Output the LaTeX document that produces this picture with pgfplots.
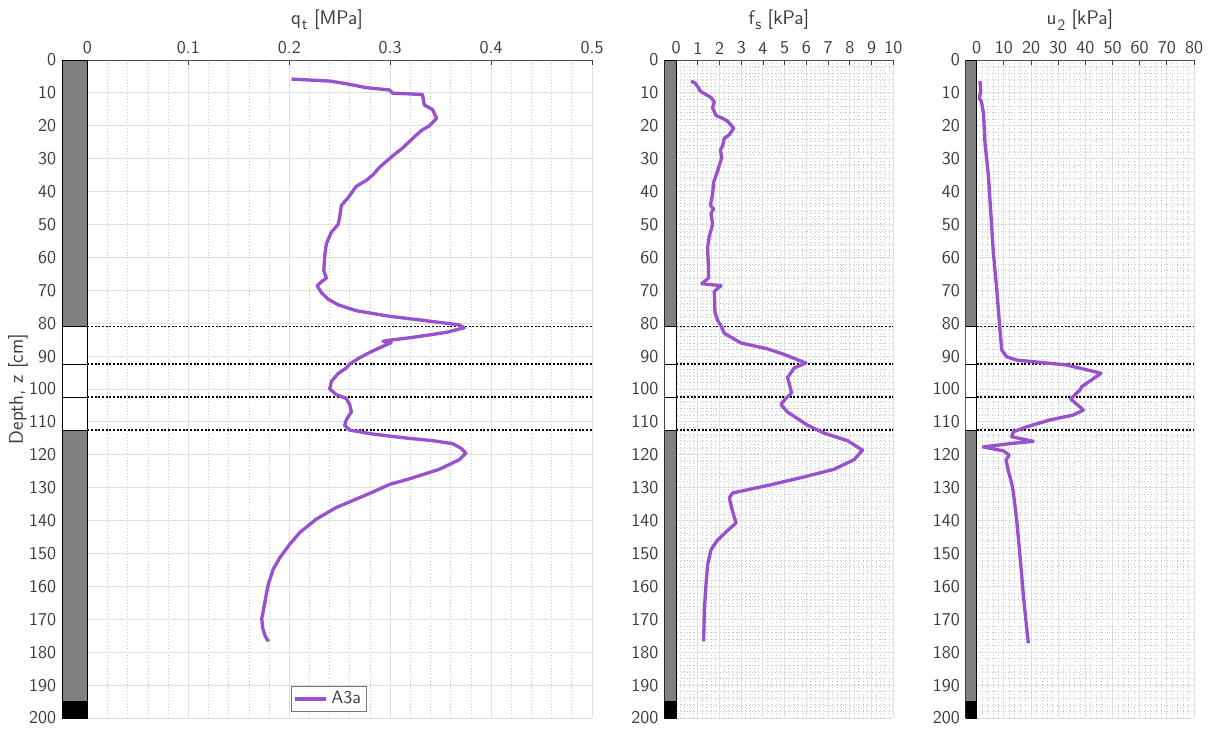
\documentclass[border=0pt]{standalone}
\usepackage{fontspec}
\renewcommand{\familydefault}{\sfdefault}
\usepackage{pgfplots}
\pgfplotsset{compat=1.18}
\definecolor{curve}{RGB}{153,82,204}
\definecolor{txt}{RGB}{60,60,60}
\definecolor{stripgrey}{RGB}{128,128,128}

\pgfplotsset{
  cpt/.style={
    scale only axis, anchor=north west,
    height=394.8pt,
    y dir=reverse, ymin=0, ymax=200, ytick={0,10,...,200},
    axis x line*=top, axis y line*=left,
    axis line style={draw=txt!90, line width=0.6pt, -},
    tick label style={font=\fontsize{10.8}{12}\selectfont, text=txt},
    label style={font=\fontsize{11.8}{13}\selectfont, text=txt},
    /pgf/number format/assume math mode=true,
    xticklabel style={/pgf/number format/fixed},
    xmajorgrids, ymajorgrids,
    major grid style={draw=black!12, line width=0.6pt},
    minor grid style={draw=black!22, dash pattern=on 0.45pt off 1.5pt, line width=0.4pt},
    minor tick length=0pt,
    ytick style={draw=none},
    xtick style={draw=txt, line width=0.5pt},
    major tick length=3pt,
    every axis plot/.append style={line join=round},
  }
}

\newcommand{\layers}[2]{%
  \addplot[fill=stripgrey, draw=black, line width=0.5pt, forget plot] coordinates {(#1,0) (0,0) (0,81) (#1,81) (#1,0)};
  \addplot[fill=white, draw=black, line width=0.5pt, forget plot] coordinates {(#1,81) (0,81) (0,92.5) (#1,92.5) (#1,81)};
  \addplot[fill=white, draw=black, line width=0.5pt, forget plot] coordinates {(#1,92.5) (0,92.5) (0,102.5) (#1,102.5) (#1,92.5)};
  \addplot[fill=white, draw=black, line width=0.5pt, forget plot] coordinates {(#1,102.5) (0,102.5) (0,112.5) (#1,112.5) (#1,102.5)};
  \addplot[fill=stripgrey, draw=black, line width=0.5pt, forget plot] coordinates {(#1,112.5) (0,112.5) (0,195) (#1,195) (#1,112.5)};
  \addplot[fill=black, draw=black, line width=0.5pt, forget plot] coordinates {(#1,195) (0,195) (0,200) (#1,200) (#1,195)};
  \addplot[black, line width=1.1pt, dash pattern=on 1.1pt off 1.1pt, forget plot] coordinates {(0,81) (#2,81)};
  \addplot[black, line width=1.1pt, dash pattern=on 1.1pt off 1.1pt, forget plot] coordinates {(0,92.5) (#2,92.5)};
  \addplot[black, line width=1.1pt, dash pattern=on 1.1pt off 1.1pt, forget plot] coordinates {(0,102.5) (#2,102.5)};
  \addplot[black, line width=1.1pt, dash pattern=on 1.1pt off 1.1pt, forget plot] coordinates {(0,112.5) (#2,112.5)};
}

\begin{document}
\begin{tikzpicture}
\path[use as bounding box] (0,0) rectangle (727.8pt,-438.6pt);

% ---------- q_t ----------
\begin{axis}[cpt,
  at={(37.2pt,-36pt)}, width=318pt,
  xmin=-0.0252, xmax=0.5, xtick={0,0.1,...,0.5},
  minor x tick num=4, xminorgrids=true,
  xlabel={q\kern0.5pt\raisebox{-0.6ex}{\fontsize{9.5}{10}\selectfont t} [MPa]},
  ylabel={Depth, z [cm]},
  ylabel style={at={(axis description cs:-0.083,0.5)}, anchor=center, rotate=0},
  legend style={at={(0.432,0.0486)}, anchor=north west, draw=txt!70,
    font=\fontsize{10.8}{12}\selectfont, text=txt, inner sep=1pt, row sep=-1.5pt},
  legend image code/.code={\draw[#1] (0pt,0pt) -- (19pt,0pt);},
]
\layers{-0.0252}{0.5}
\addplot[curve, line width=2pt] coordinates {
(0.2023,5.8) (0.240,6.4) (0.2566,7.2) (0.276,8.4) (0.2993,9.1) (0.3026,10.1) (0.3125,10.2)
(0.332,10.5) (0.3339,13.7) (0.3388,14.5) (0.342,15.1) (0.346,17.7) (0.3388,20.0) (0.3306,21.5)
(0.3224,23.8) (0.3125,26.7) (0.3026,29.1) (0.2895,32.6) (0.2829,34.9) (0.2763,36.6) (0.2664,38.4)
(0.2582,41.9) (0.2516,44.2) (0.2500,47.7) (0.2484,50.0) (0.2418,52.3) (0.2368,55.8) (0.2352,59.3)
(0.2342,64.0) (0.2368,66.3) (0.2319,67.4) (0.2276,68.6) (0.2319,70.7) (0.2385,72.7) (0.2484,74.4)
(0.2664,76.2) (0.2993,77.9) (0.3320,79.1) (0.3553,80.0) (0.3684,80.5) (0.3734,81.4) (0.3553,82.8)
(0.3224,84.3) (0.3010,85.1) (0.2928,85.5) (0.3010,85.9) (0.2829,88.4) (0.2697,90.5) (0.2599,92.4)
(0.2566,93.6) (0.2484,95.3) (0.2418,97.7) (0.2401,100.0) (0.2467,101.7) (0.2566,102.9) (0.2599,104.7)
(0.2615,107.0) (0.2566,109.3) (0.2549,111.0) (0.2599,112.5) (0.2829,113.7) (0.3158,114.9) (0.3421,115.7)
(0.3618,116.6) (0.3701,118.0) (0.3750,119.5) (0.3684,121.5) (0.3487,124.4) (0.3191,127.3) (0.2993,129.0)
(0.2829,131.3) (0.2599,134.3) (0.2467,136.0) (0.2270,139.5) (0.2105,143.6) (0.2007,147.1) (0.1908,151.2)
(0.1842,154.7) (0.1793,159.3) (0.1770,162.8) (0.1743,167.4) (0.1727,169.8) (0.1737,172.7) (0.1760,175.0)
(0.1793,176.7)
};
\addlegendentry{A3a}
\end{axis}

% ---------- f_s ----------
\begin{axis}[cpt,
  at={(398.6pt,-36pt)}, width=137.4pt,
  xmin=-0.54, xmax=10, xtick={0,1,...,10},
  minor tick num=4, xminorgrids=true, yminorgrids=true,
  xlabel={f\kern0.5pt\raisebox{-0.6ex}{\fontsize{9.5}{10}\selectfont s} [kPa]},
]
\layers{-0.54}{10}
\addplot[curve, line width=2pt] coordinates {
(0.69,6.4) (0.87,7.0) (1.00,8.1) (1.12,9.5) (1.38,10.5) (1.61,11.4) (1.76,12.8) (1.68,14.5)
(1.84,16.9) (2.14,17.7) (2.37,18.6) (2.65,20.7) (2.45,22.7) (2.22,23.8) (2.14,26.2) (2.04,27.3)
(2.10,29.7) (1.91,33.7) (1.73,37.2) (1.68,40.7) (1.58,44.2) (1.73,45.3) (1.61,46.5) (1.68,50.0)
(1.53,53.5) (1.45,57.0) (1.49,62.8) (1.49,66.3) (1.18,68.0) (2.07,68.6) (1.76,70.3) (1.79,76.7)
(1.91,79.1) (2.07,80.8) (2.22,83.1) (2.99,86.0) (4.21,87.8) (4.98,89.5) (5.97,92.1) (5.44,93.6)
(5.13,96.5) (5.25,99.4) (5.31,101.2) (5.05,102.9) (4.82,104.7) (5.13,107.0) (6.05,111.0) (6.81,113.4)
(7.89,115.7) (8.58,118.6) (8.19,121.5) (7.27,124.4) (5.90,126.7) (4.36,129.1) (2.60,131.6) (2.45,133.1)
(2.60,137.2) (2.76,140.7) (2.37,143.0) (1.91,145.9) (1.61,148.8) (1.45,153.5) (1.38,159.3) (1.30,167.4)
(1.27,176.7)
};
\end{axis}

% ---------- u_2 ----------
\begin{axis}[cpt,
  at={(579.4pt,-36pt)}, width=137pt,
  xmin=-4.05, xmax=80, xtick={0,10,...,80},
  minor tick num=4, xminorgrids=true, yminorgrids=true,
  xlabel={u\kern0.5pt\raisebox{-0.6ex}{\fontsize{9.5}{10}\selectfont 2} [kPa]},
]
\layers{-4.05}{80}
\addplot[curve, line width=2pt] coordinates {
(1.2,6.4) (1.5,9.3) (1.0,11.6) (1.8,12.8) (2.5,16.3) (3.1,25.6) (4.3,34.9) (5.2,46.5)
(6.1,58.1) (7.4,69.8) (8.4,80.2) (9.0,86.0) (9.2,88.1) (11.0,90.2) (14.7,91.2) (23.3,91.9)
(33.1,92.7) (45.8,95.2) (38.7,99.3) (38.0,100.3) (34.6,103.0) (39.3,106.4) (35.6,107.9) (27.0,109.4)
(18.4,111.5) (13.5,113.0) (12.9,114.5) (20.8,115.9) (12.3,116.6) (2.4,117.6) (9.8,118.8) (12.0,120.1)
(10.8,121.6) (11.6,124.7) (12.9,128.7) (13.5,131.4) (14.7,139.5) (16.0,151.2) (17.2,162.8) (18.2,170.9)
(19.0,177.3)
};
\end{axis}
\end{tikzpicture}
\end{document}
